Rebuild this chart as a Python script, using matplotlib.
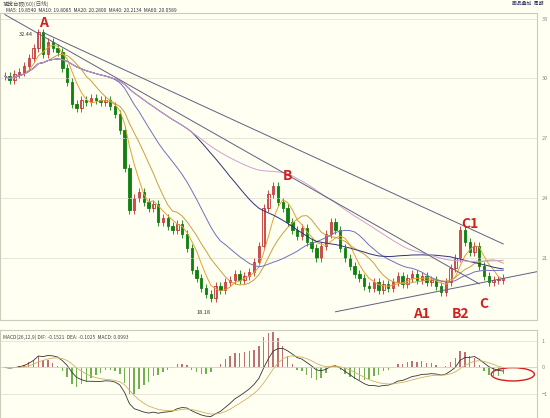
import matplotlib.pyplot as plt
import numpy as np
import pandas as pd

plt.rcParams['font.family'] = ['Noto Sans CJK SC', 'DejaVu Sans']

closes = [30.1, 29.9, 30.2, 30.3, 30.6, 31.0, 31.5, 32.3, 31.2, 31.8,
          31.5, 31.3, 30.5, 29.8, 28.7, 28.5, 28.9, 28.8, 29.0, 28.9,
          28.8, 28.9, 28.6, 28.2, 27.4, 25.5, 23.4, 24.0, 24.3, 23.8,
          23.5, 23.7, 22.8, 23.0, 22.6, 22.4, 22.7, 22.2, 21.5, 20.4,
          20.0, 19.5, 19.2, 19.0, 19.6, 19.4, 19.8, 19.9, 20.2, 19.9,
          20.1, 20.3, 20.8, 21.6, 23.5, 24.2, 24.6, 23.8, 23.5, 22.8,
          22.4, 22.1, 22.5, 21.8, 21.5, 21.0, 21.6, 22.2, 22.8, 22.4,
          21.5, 21.0, 20.6, 20.2, 20.0, 19.6, 19.5, 19.8, 19.4, 19.7,
          19.5, 19.8, 20.1, 19.7, 20.0, 20.2, 19.9, 20.1, 19.8, 19.9,
          19.6, 19.3, 19.8, 20.5, 21.0, 22.4, 21.8, 21.3, 21.6, 20.6,
          20.1, 19.8, 19.9, 19.9, 20.0]
ma_periods = [5, 10, 20, 40, 60]
ma_colors = ['#e8a030', '#c8a040', '#7070c0', '#303080', '#d0a0d0']
# trend lines: (index, price) endpoints
trend_lines = [((8, 32.3), (104, 21.7)), ((0, 33.2), (99, 19.7)), ((69, 18.3), (115, 20.5))]
labels = [('A', 8, 32.6), ('B', 59, 24.9), ('C1', 97, 22.5), ('A1', 87, 18.0),
          ('B2', 95, 18.0), ('C', 100, 18.5)]

s = pd.Series(closes)
opens = s.shift(1).fillna(s.iloc[0]).values
c = s.values
n = len(c)
x = np.arange(n)

bg = '#fffff2'
fig = plt.figure(figsize=(5.5, 4.18), dpi=100, facecolor=bg)
ax = fig.add_axes([0.0, 0.235, 0.976, 0.735], facecolor=bg)
ax2 = fig.add_axes([0.0, 0.0, 0.976, 0.21], facecolor=bg)

for i in range(n):
    up = c[i] >= opens[i]
    col = '#c03030' if up else '#108010'
    lo, hi = min(c[i], opens[i]), max(c[i], opens[i])
    ax.vlines(i, lo - 0.2, hi + 0.2, color=col, lw=0.6)
    ax.bar(i, max(hi - lo, 0.03), bottom=lo, width=0.5,
           color=bg if up else col, edgecolor=col, lw=0.6)

for p, col in zip(ma_periods, ma_colors):
    ax.plot(x, s.rolling(p, min_periods=1).mean(), color=col, lw=0.7)

for (x0, y0), (x1, y1) in trend_lines:
    ax.plot([x0, x1], [y0, y1], color='#606080', lw=0.7)

for t, lx, ly in labels:
    ax.text(lx, ly, t, color='#d02020', fontsize=10, fontweight='bold', ha='center')
ax.text(3, 32.1, '32.44', fontsize=4, color='#333')
ax.text(40, 18.2, '18.18', fontsize=4, color='#333')

ax.set_xlim(-1, 111)
ax.set_ylim(17.9, 33.3)
ax.set_yticks([21, 24, 27, 30, 33])
ax.yaxis.tick_right()
ax.tick_params(labelsize=4, colors='#888', length=0)
ax.set_xticks([])
ax.grid(axis='y', color='#ddddcc', lw=0.5)
for sp in ax.spines.values():
    sp.set_color('#ccccbb')

fig.text(0.005, 0.998, '视觉台硕(60)(日线)', fontsize=4, color='#555', va='top')
fig.text(0.01, 0.982, 'MA5: 19.8540  MA10: 19.8085  MA20: 20.2800  MA40: 20.2134  MA60: 20.0589',
         fontsize=3.5, color='#334', va='top')
fig.text(0.93, 0.998, '画品叠加  周期', fontsize=3.5, color='#336', va='top')

# MACD
ema12 = s.ewm(span=8, adjust=False).mean()
ema26 = s.ewm(span=18, adjust=False).mean()
dif = ema12 - ema26
dea = dif.ewm(span=6, adjust=False).mean()
hist = 2 * (dif - dea)
ax2.bar(x, hist, width=0.3, color=np.where(hist >= 0, '#c07070', '#70b050'))
ax2.plot(x, dif, color='#333', lw=0.6)
ax2.plot(x, dea, color='#d0b060', lw=0.6)
ax2.axhline(0, color='#ccc', lw=0.4)
ax2.add_patch(plt.matplotlib.patches.Ellipse((n + 1, hist.iloc[-1]), 9, 0.5,
                                             fill=False, color='#d02020', lw=1))
ax2.set_xlim(-1, 111)
ax2.set_ylim(-1.9, 1.4)
ax2.set_yticks([1.0, 0, -1.0])
ax2.yaxis.tick_right()
ax2.set_xticks([])
ax2.tick_params(labelsize=4, colors='#888', length=0)
ax2.grid(axis='y', color='#ddddcc', lw=0.5)
ax2.text(0.005, 0.95, 'MACD(26,12,9) DIF: -0.1521  DEA: -0.1025  MACD: 0.0993',
         transform=ax2.transAxes, fontsize=3.5, va='top', color='#444')
for sp in ax2.spines.values():
    sp.set_color('#ccccbb')

fig.savefig('out.png', dpi=100, facecolor=bg)
